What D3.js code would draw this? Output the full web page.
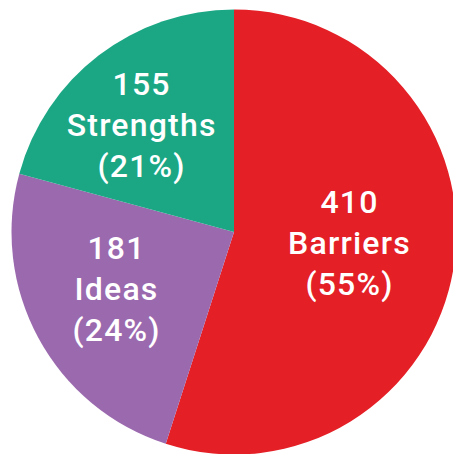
<!DOCTYPE html>
<html>
<head>
<meta charset="utf-8">
<script src="https://cdn.jsdelivr.net/npm/d3@7"></script>
<style>
  html, body { margin: 0; padding: 0; background: #fff; }
  svg { display: block; }
</style>
</head>
<body>
<svg id="chart" width="453" height="454"></svg>
<script>
const categories = ["Barriers", "Ideas", "Strengths"];
const values = [410, 181, 155];
const colors = ["#E41F26", "#9B69AE", "#1BA784"];

const W = 453, H = 454;
const cx = 234, cy = 232, R = 222.5;
const svg = d3.select("#chart");
const g = svg.append("g").attr("transform", `translate(${cx},${cy})`);

const data = categories.map((c, i) => ({ cat: c, value: values[i], color: colors[i] }));
const total = d3.sum(values);

const pie = d3.pie().sort(null).value(d => d.value);
const arcs = pie(data);
const arc = d3.arc().innerRadius(0).outerRadius(R);
const labelArc = d3.arc().innerRadius(R * 0.58).outerRadius(R * 0.58);

g.selectAll("path.slice")
  .data(arcs)
  .join("path")
  .attr("class", "slice")
  .attr("d", arc)
  .attr("fill", d => d.data.color);

const nudge = { "Barriers": [-12, -10], "Ideas": [-4, -5], "Strengths": [-14, -5] };
const fontSize = 32, lineH = 41, capHalf = 11.5;

const labels = g.selectAll("text.lbl")
  .data(arcs)
  .join("text")
  .attr("class", "lbl")
  .attr("text-anchor", "middle")
  .attr("fill", "#fff")
  .style("font-family", "Roboto, 'DejaVu Sans', sans-serif")
  .style("font-weight", "500")
  .style("font-size", fontSize + "px")
  .style("letter-spacing", "1.2px")
  .attr("transform", d => {
    const [x, y] = labelArc.centroid(d);
    const n = nudge[d.data.cat];
    return `translate(${x + n[0]},${y + n[1] + capHalf})`;
  });

labels.each(function(d) {
  const t = d3.select(this);
  const lines = [String(d.data.value), d.data.cat, "(" + Math.round(d.data.value / total * 100) + "%)"];
  lines.forEach((s, i) => {
    t.append("tspan").attr("x", 0).attr("y", (i - 1) * lineH).text(s);
  });
});
</script>
</body>
</html>
